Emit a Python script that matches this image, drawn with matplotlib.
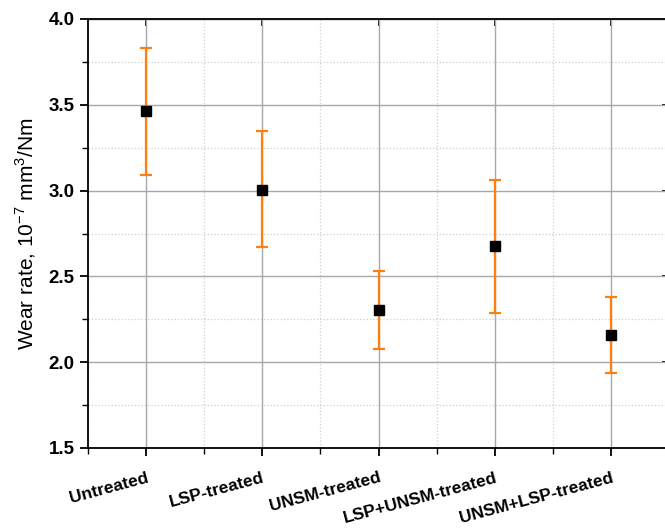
import numpy as np
import matplotlib.pyplot as plt
from matplotlib.ticker import MultipleLocator

plt.rcParams['font.family'] = ['Liberation Sans', 'DejaVu Sans']
plt.rcParams['mathtext.fontset'] = 'custom'
plt.rcParams['mathtext.rm'] = 'Liberation Sans'

categories = ['Untreated', 'LSP-treated', 'UNSM-treated', 'LSP+UNSM-treated', 'UNSM+LSP-treated']
wear_rate = [3.465, 3.005, 2.303, 2.678, 2.158]
err_upper = [3.831, 3.345, 2.532, 3.064, 2.382]
err_lower = [3.093, 2.674, 2.076, 2.287, 1.936]

x = np.arange(1, len(categories) + 1)
yerr = [np.array(wear_rate) - np.array(err_lower), np.array(err_upper) - np.array(wear_rate)]

fig = plt.figure(figsize=(6.65, 5.28), dpi=100)
ax = fig.add_axes([88/665, 80/528, 581/665, 429/528])

ax.errorbar(x, wear_rate, yerr=yerr, fmt='s', color='black', ms=7.3,
            ecolor='#ff7f0e', elinewidth=1.6, capsize=4, capthick=1.6, zorder=3)

ax.set_xlim(0.5, 5.5)
ax.set_ylim(1.5, 4.0)
ax.set_xticks(x)
ax.set_xticklabels(categories, rotation=15, ha='right', rotation_mode='anchor',
                   fontsize=12.5, fontweight='bold')
ax.xaxis.set_minor_locator(MultipleLocator(0.5))
ax.yaxis.set_major_locator(MultipleLocator(0.5))
ax.yaxis.set_minor_locator(MultipleLocator(0.25))
for lab in ax.get_yticklabels():
    lab.set_fontweight('bold')
ax.tick_params(axis='y', labelsize=13.5)
ax.tick_params(axis='both', which='major', length=6, width=1.3, direction='out')
ax.tick_params(axis='both', which='minor', length=4, width=1.0, direction='out')
ax.tick_params(axis='x', which='major', pad=10)

# inward ticks on top and right, like the original
top = ax.secondary_xaxis('top')
top.set_xticks(x)
top.tick_params(direction='in', length=5, width=1.3, labeltop=False)
right = ax.secondary_yaxis('right')
right.set_yticks([2.0, 2.5, 3.0, 3.5])
right.tick_params(direction='in', length=5, width=1.3, labelright=False)
right.yaxis.set_minor_locator(plt.NullLocator())
top.xaxis.set_minor_locator(plt.NullLocator())

ax.grid(which='major', color='#a8a8a8', linewidth=1.0, linestyle='-')
ax.grid(which='minor', color='#cfcfcf', linewidth=0.9, linestyle=':')
ax.set_axisbelow(True)

for s in ax.spines.values():
    s.set_linewidth(1.3)

ax.set_ylabel('Wear rate, 10$^{\\mathrm{-7}}$ mm$^{\\mathrm{3}}$/Nm', fontsize=15, labelpad=8)

fig.savefig('out.png', dpi=100)
